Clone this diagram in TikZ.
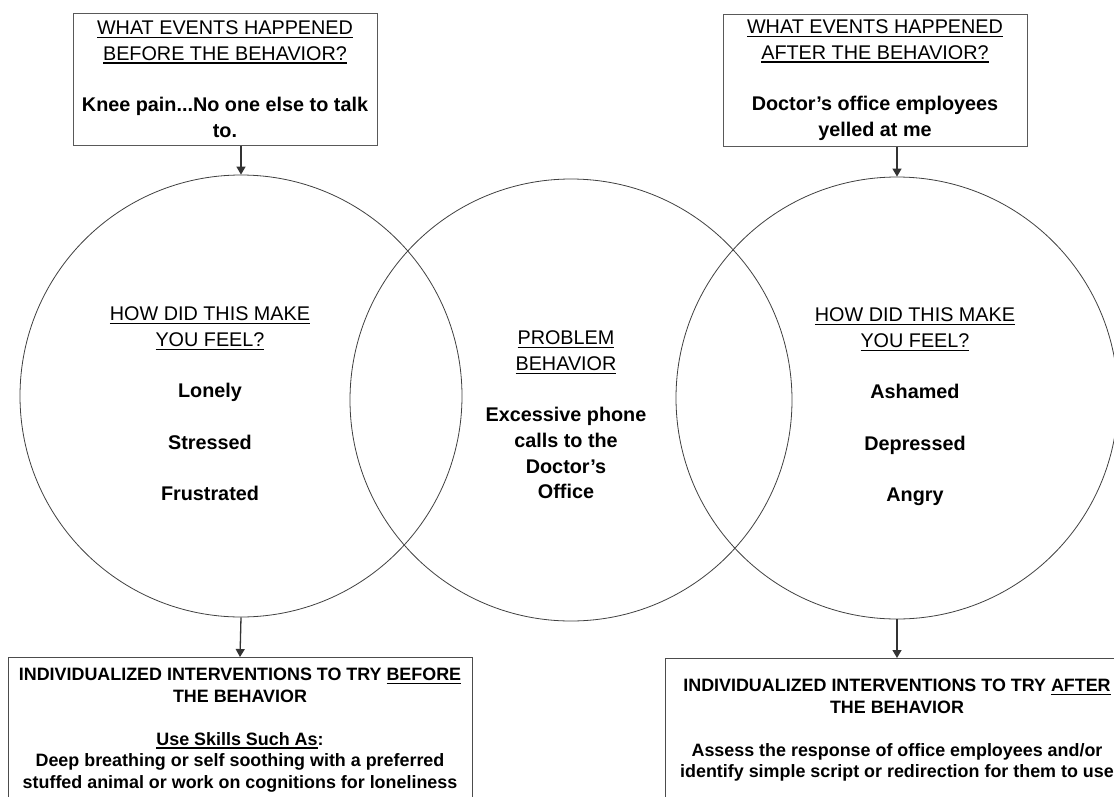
\documentclass[tikz,border=0pt]{standalone}
\usepackage{fontspec}
\setmainfont{Liberation Sans}
\newcommand{\uln}[1]{\leavevmode\vtop{\hbox{#1}\kern2pt\hrule height 1.3pt}}
\usetikzlibrary{arrows.meta,positioning}
\begin{document}
\begin{tikzpicture}[x=1pt,y=-1pt,
  ring/.style={circle,draw=black!75,line width=0.8pt,minimum size=442pt,inner sep=0pt},
  evbox/.style={draw=black!65,line width=1pt,minimum width=304pt,minimum height=132pt,inner sep=0pt,align=center,font=\fontsize{19.8}{25.7}\selectfont},
  ivbox/.style={draw=black!70,line width=1pt,minimum width=464pt,minimum height=200pt,inner sep=0pt,anchor=north},
  ivtext/.style={inner sep=0pt,anchor=north,align=center,font=\bfseries\fontsize{17.9}{21.5}\selectfont},
  feel/.style={inner sep=0pt,align=center,font=\fontsize{19.8}{25.7}\selectfont},
  flow/.style={draw=black!80,line width=1.3pt,-{Triangle[length=8pt,width=9pt]}}]
\clip (0,0) rectangle (1114,796);
\pgfmathsetmacro{\kgap}{25.7}
\foreach \nm/\cx/\cy in {lc/241/396,mc/571/400,rc/897/398}{\node[ring](\nm) at (\cx,\cy){};}
\node[evbox](before) at (225,79){\uln{WHAT EVENTS HAPPENED}\\\uln{BEFORE THE BEHAVIOR?}\\[\kgap pt]\textbf{Knee pain...No one else to talk}\\\textbf{to.}};
\node[evbox](after) at (875,80){\uln{WHAT EVENTS HAPPENED}\\\uln{AFTER THE BEHAVIOR?}\\[\kgap pt]\textbf{Doctor's office employees}\\\textbf{yelled at me}};
\foreach \nm/\fx/\fy/\fa/\fb/\fc in {lfeel/210/404/Lonely/Stressed/Frustrated,rfeel/915/407/Ashamed/Depressed/Angry}{
  \node[feel](\nm) at (\fx,\fy){\uln{HOW DID THIS MAKE}\\\uln{YOU FEEL?}\\[\kgap pt]\textbf{\fa}\\[\kgap pt]\textbf{\fb}\\[\kgap pt]\textbf{\fc}};}
\node[feel](prob) at (566,415){\uln{PROBLEM}\\\uln{BEHAVIOR}\\[\kgap pt]\textbf{Excessive phone}\\\textbf{calls to the}\\\textbf{Doctor's}\\\textbf{Office}};
\node[ivbox](ivbefore) at (240,657){};
\node[ivbox](ivafter) at (897,658){};
\node[ivtext](ivbeforetxt) at (240,668){INDIVIDUALIZED INTERVENTIONS TO TRY \uln{BEFORE}\\THE BEHAVIOR\\[21.5pt]\uln{Use Skills Such As}:\\Deep breathing or self soothing with a preferred\\stuffed animal or work on cognitions for loneliness};
\node[ivtext](ivaftertxt) at (897,679){INDIVIDUALIZED INTERVENTIONS TO TRY \uln{AFTER}\\THE BEHAVIOR\\[21.5pt]Assess the response of office employees and/or\\identify simple script or redirection for them to use};
\draw[flow](before.south -| lc.north)--(lc.north);
\draw[flow](lc.south)--(ivbefore.north);
\draw[flow](after.south -| rc.north)--(rc.north);
\draw[flow](rc.south)--(ivafter.north);
\end{tikzpicture}
\end{document}
